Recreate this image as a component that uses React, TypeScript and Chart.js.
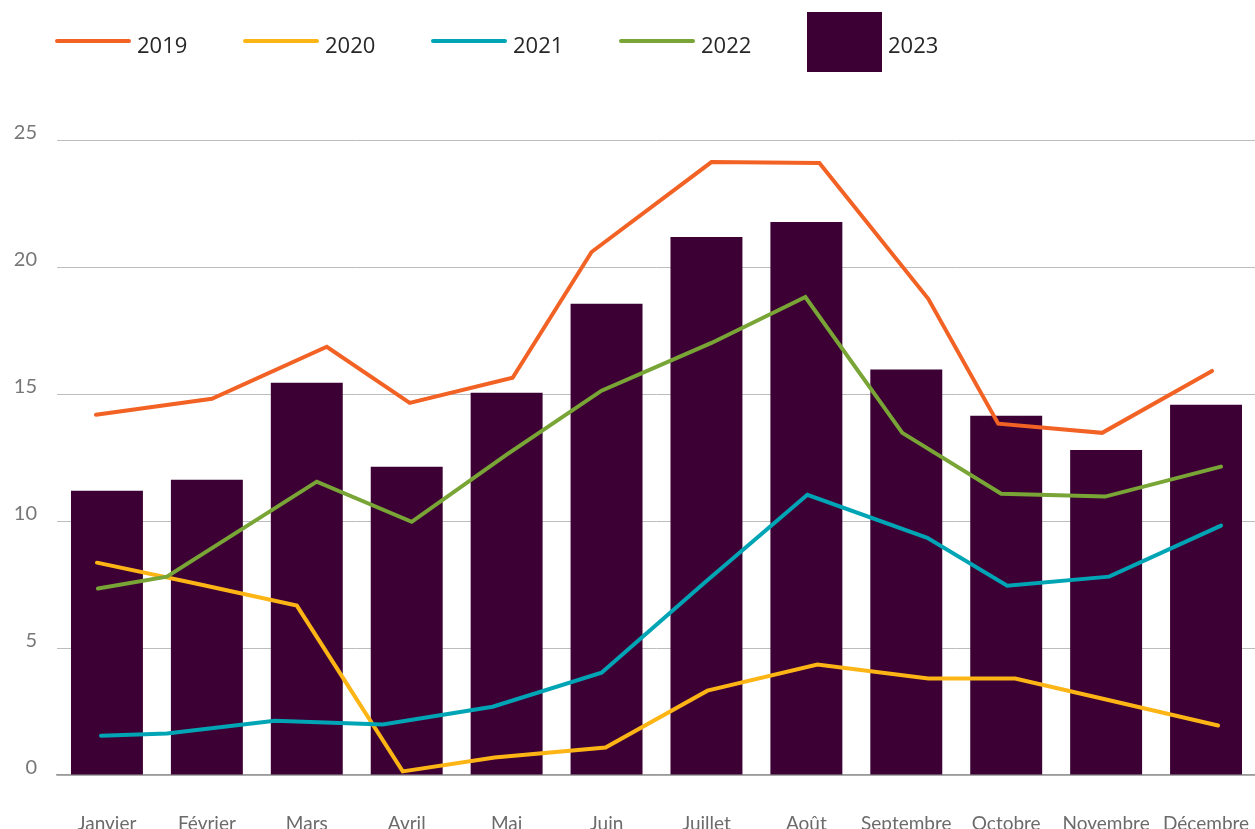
import React, { useEffect, useRef } from "react";
import { Chart, registerables } from "chart.js";

Chart.register(...registerables);

// Categories
const months = [
  "Janvier", "Février", "Mars", "Avril", "Mai", "Juin",
  "Juillet", "Août", "Septembre", "Octobre", "Novembre", "Décembre",
];

// 2023 (bars)
const values2023 = [11.19, 11.62, 15.44, 12.14, 15.05, 18.55, 21.18, 21.77, 15.96, 14.14, 12.8, 14.58];

// Line series: values and their horizontal position (in month index units)
const x2019 = [-0.11, 1.05, 2.2, 3.03, 4.06, 4.85, 6.05, 7.13, 8.22, 8.92, 9.96, 11.06];
const y2019 = [14.18, 14.81, 16.86, 14.65, 15.64, 20.59, 24.13, 24.09, 18.75, 13.83, 13.47, 15.91];

const x2020 = [-0.1, 0.9, 1.9, 2.96, 3.88, 4.99, 6.01, 7.11, 8.22, 9.09, 10.0, 11.12];
const y2020 = [8.36, 7.53, 6.67, 0.14, 0.69, 1.08, 3.32, 4.35, 3.8, 3.8, 2.97, 1.95];

const x2021 = [-0.06, 0.6, 1.68, 2.76, 3.86, 4.95, 5.98, 7.01, 8.21, 9.01, 10.03, 11.15];
const y2021 = [1.55, 1.63, 2.14, 1.99, 2.69, 4.03, 7.57, 11.03, 9.34, 7.45, 7.81, 9.82];

const x2022 = [-0.09, 0.6, 2.1, 3.05, 4.0, 4.95, 6.05, 6.99, 7.96, 8.95, 9.99, 11.15];
const y2022 = [7.34, 7.81, 11.55, 9.97, 12.61, 15.13, 17.01, 18.82, 13.47, 11.07, 10.96, 12.14];

const seriesLabels = ["2019", "2020", "2021", "2022", "2023"];
const seriesColors = ["#F26224", "#FDB515", "#00A5B5", "#78A535", "#3C0034"];

// Y axis ticks
const yMin = 0;
const yMax = 25;
const yStep = 5;

const toPoints = (xs: number[], ys: number[]) => xs.map((x, i) => ({ x, y: ys[i] }));

export default function App() {
  const canvasRef = useRef<HTMLCanvasElement | null>(null);

  useEffect(() => {
    if (!canvasRef.current) return;
    const lineSets = [
      toPoints(x2019, y2019),
      toPoints(x2020, y2020),
      toPoints(x2021, y2021),
      toPoints(x2022, y2022),
    ];
    const chart = new Chart(canvasRef.current, {
      type: "bar",
      data: {
        labels: months,
        datasets: [
          ...lineSets.map((pts, i) => ({
            type: "line" as const,
            label: seriesLabels[i],
            data: pts,
            xAxisID: "xl",
            borderColor: seriesColors[i],
            backgroundColor: seriesColors[i],
            borderWidth: 4,
            pointRadius: 0,
            pointHoverRadius: 0,
            tension: 0,
            borderCapStyle: "round" as const,
            borderJoinStyle: "miter" as const,
            order: 4 - i,
          })),
          {
            type: "bar" as const,
            label: seriesLabels[4],
            data: values2023,
            xAxisID: "x",
            backgroundColor: seriesColors[4],
            borderWidth: 0,
            grouped: false,
            barPercentage: 0.72,
            categoryPercentage: 1,
            order: 10,
          },
        ],
      },
      options: {
        animation: false,
        responsive: true,
        maintainAspectRatio: false,
        layout: { padding: { top: 140, left: 0, right: 4, bottom: 0 } },
        plugins: {
          legend: { display: false },
          tooltip: { enabled: false },
        },
        scales: {
          x: {
            type: "category",
            offset: true,
            grid: { display: false, drawTicks: true, tickLength: 37 },
            border: { display: true, color: "#9a9a9a", width: 1.5 },
            ticks: {
              padding: 0,
              color: "#6b6b6b",
              font: { family: "Lato", size: 19 },
              maxRotation: 0,
              autoSkip: false,
            },
            afterFit: (s: any) => {
              s.height = 54;
            },
          },
          xl: {
            type: "linear",
            display: false,
            offset: false,
            min: -0.5,
            max: 11.5,
          },
          y: {
            min: yMin,
            max: yMax,
            ticks: {
              stepSize: yStep,
              padding: 20,
              labelOffset: -7,
              color: "#777777",
              font: { family: "Lato", size: 20 },
            },
            grid: { color: "#bdbdbd", lineWidth: 1, drawTicks: false },
            border: { display: false },
            afterFit: (s: any) => {
              s.width = 57;
            },
          },
        },
      },
    } as any);
    return () => chart.destroy();
  }, []);

  return (
    <div style={{ position: "fixed", left: 0, top: 0, width: "100vw", height: "100vh", overflow: "hidden", background: "#fff" }}>
      <div style={{ position: "absolute", left: 0, top: 0, width: 1260, height: 829 }}>
        <canvas ref={canvasRef} style={{ display: "block" }} />
      </div>
      <div
        style={{
          position: "absolute",
          left: 55,
          top: 12,
          height: 60,
          display: "flex",
          alignItems: "center",
          fontFamily: "'Open Sans', sans-serif",
          fontSize: 22,
          color: "#262626",
        }}
      >
        {seriesLabels.map((label, i) => (
          <div key={label} style={{ display: "flex", alignItems: "center", width: 188, height: 60 }}>
            {i < 4 ? (
              <div style={{ width: 76, height: 4.5, borderRadius: 3, background: seriesColors[i], marginTop: -2 }} />
            ) : (
              <div style={{ width: 75, height: 60, background: seriesColors[i] }} />
            )}
            <span style={{ marginLeft: 6, lineHeight: "24px", marginTop: 3 }}>{label}</span>
          </div>
        ))}
      </div>
    </div>
  );
}
